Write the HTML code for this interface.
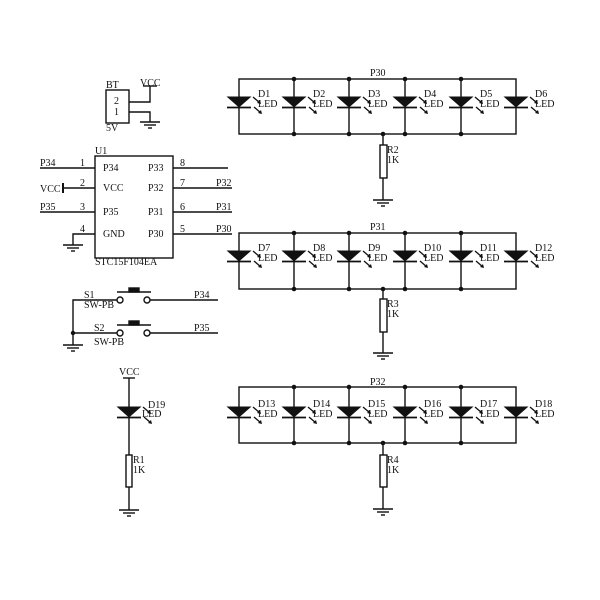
<!DOCTYPE html>
<html><head><style>
html,body{margin:0;padding:0;background:#fff;}
svg{display:block;}
text{font-family:"Liberation Serif",serif;font-size:10px;fill:#111;}
</style></head><body>
<svg width="600" height="600" viewBox="0 0 600 600" xmlns="http://www.w3.org/2000/svg">
<defs>
<g id="dio">
<polygon points="-12.5,-0.5 12.5,-0.5 0,10.5" fill="#111"/>
<line x1="-12" y1="10.5" x2="12" y2="10.5" stroke="#111" stroke-width="1.8"/>
<line x1="14" y1="0" x2="21" y2="6" stroke="#111" stroke-width="1.3"/>
<polygon points="22,7 18,6 21,3" fill="#111"/>
<line x1="15" y1="10" x2="22" y2="16" stroke="#111" stroke-width="1.3"/>
<polygon points="23,17 19,16 22,13" fill="#111"/>
</g>
<g id="gnd" stroke="#111" stroke-width="1.4">
<line x1="-10" y1="0" x2="10" y2="0"/>
<line x1="-6" y1="3" x2="6" y2="3"/>
<line x1="-2" y1="6" x2="2" y2="6"/>
</g>
</defs>
<g stroke="#111" stroke-width="1.4" fill="none">
<rect x="106" y="90" width="23" height="33"/>
<polyline points="129,102 150,102 150,86"/>
<line x1="143" y1="86" x2="157" y2="86"/>
<polyline points="129,112 150,112 150,122"/>
<rect x="95" y="156" width="78" height="102"/>
<line x1="40" y1="168" x2="95" y2="168"/>
<line x1="63" y1="188" x2="95" y2="188"/>
<line x1="63" y1="183" x2="63" y2="193" stroke-width="2"/>
<line x1="40" y1="212" x2="95" y2="212"/>
<polyline points="95,234 73,234 73,245"/>
<line x1="173" y1="168" x2="228" y2="168"/>
<line x1="173" y1="188" x2="232" y2="188"/>
<line x1="173" y1="212" x2="232" y2="212"/>
<line x1="173" y1="234" x2="232" y2="234"/>
<polyline points="117,300 73,300 73,345"/>
<line x1="73" y1="333" x2="117" y2="333"/>
<circle cx="120" cy="300" r="3"/><circle cx="147" cy="300" r="3"/>
<circle cx="120" cy="333" r="3"/><circle cx="147" cy="333" r="3"/>
<line x1="150" y1="300" x2="218" y2="300"/>
<line x1="150" y1="333" x2="218" y2="333"/>
<line x1="117" y1="292" x2="151" y2="292" stroke-width="1.6"/>
<line x1="117" y1="325" x2="151" y2="325" stroke-width="1.6"/>
<rect x="129" y="288" width="10" height="4" fill="#111"/>
<rect x="129" y="321" width="10" height="4" fill="#111"/>
<line x1="123" y1="378" x2="135" y2="378"/>
<line x1="129" y1="378" x2="129" y2="455"/>
<rect x="126" y="455" width="6" height="32"/>
<line x1="129" y1="487" x2="129" y2="510"/>
<rect x="239" y="79" width="277" height="55"/>
<rect x="239" y="233" width="277" height="56"/>
<rect x="239" y="387" width="277" height="56"/>
<line x1="294" y1="79" x2="294" y2="134"/><line x1="349" y1="79" x2="349" y2="134"/><line x1="405" y1="79" x2="405" y2="134"/><line x1="461" y1="79" x2="461" y2="134"/>
<line x1="294" y1="233" x2="294" y2="289"/><line x1="349" y1="233" x2="349" y2="289"/><line x1="405" y1="233" x2="405" y2="289"/><line x1="461" y1="233" x2="461" y2="289"/>
<line x1="294" y1="387" x2="294" y2="443"/><line x1="349" y1="387" x2="349" y2="443"/><line x1="405" y1="387" x2="405" y2="443"/><line x1="461" y1="387" x2="461" y2="443"/>
<line x1="383" y1="134" x2="383" y2="145"/><rect x="380" y="145" width="7" height="33"/><line x1="383" y1="178" x2="383" y2="200"/>
<line x1="383" y1="289" x2="383" y2="299"/><rect x="380" y="299" width="7" height="33"/><line x1="383" y1="332" x2="383" y2="353"/>
<line x1="383" y1="443" x2="383" y2="455"/><rect x="380" y="455" width="7" height="32"/><line x1="383" y1="487" x2="383" y2="509"/>
</g>
<g fill="#111">
<circle cx="73" cy="333" r="2.2"/>
<circle cx="294" cy="79" r="2.3"/><circle cx="349" cy="79" r="2.3"/><circle cx="405" cy="79" r="2.3"/><circle cx="461" cy="79" r="2.3"/>
<circle cx="294" cy="134" r="2.3"/><circle cx="349" cy="134" r="2.3"/><circle cx="383" cy="134" r="2.3"/><circle cx="405" cy="134" r="2.3"/><circle cx="461" cy="134" r="2.3"/>
<circle cx="294" cy="233" r="2.3"/><circle cx="349" cy="233" r="2.3"/><circle cx="405" cy="233" r="2.3"/><circle cx="461" cy="233" r="2.3"/>
<circle cx="294" cy="289" r="2.3"/><circle cx="349" cy="289" r="2.3"/><circle cx="383" cy="289" r="2.3"/><circle cx="405" cy="289" r="2.3"/><circle cx="461" cy="289" r="2.3"/>
<circle cx="294" cy="387" r="2.3"/><circle cx="349" cy="387" r="2.3"/><circle cx="405" cy="387" r="2.3"/><circle cx="461" cy="387" r="2.3"/>
<circle cx="294" cy="443" r="2.3"/><circle cx="349" cy="443" r="2.3"/><circle cx="383" cy="443" r="2.3"/><circle cx="405" cy="443" r="2.3"/><circle cx="461" cy="443" r="2.3"/>
</g>
<use href="#gnd" x="150" y="122"/><use href="#gnd" x="73" y="245"/><use href="#gnd" x="73" y="345"/><use href="#gnd" x="129" y="510"/>
<use href="#gnd" x="383" y="200"/><use href="#gnd" x="383" y="353"/><use href="#gnd" x="383" y="509"/>
<use href="#dio" x="129" y="407"/>
<use href="#dio" x="239" y="97"/><use href="#dio" x="294" y="97"/><use href="#dio" x="349" y="97"/><use href="#dio" x="405" y="97"/><use href="#dio" x="461" y="97"/><use href="#dio" x="516" y="97"/>
<use href="#dio" x="239" y="251"/><use href="#dio" x="294" y="251"/><use href="#dio" x="349" y="251"/><use href="#dio" x="405" y="251"/><use href="#dio" x="461" y="251"/><use href="#dio" x="516" y="251"/>
<use href="#dio" x="239" y="407"/><use href="#dio" x="294" y="407"/><use href="#dio" x="349" y="407"/><use href="#dio" x="405" y="407"/><use href="#dio" x="461" y="407"/><use href="#dio" x="516" y="407"/>
<text x="106" y="88">BT</text><text x="140" y="86">VCC</text>
<text x="114" y="104">2</text><text x="114" y="115">1</text><text x="106" y="131">5V</text>
<text x="95" y="154">U1</text>
<text x="40" y="166">P34</text><text x="80" y="166">1</text><text x="103" y="171">P34</text><text x="148" y="171">P33</text><text x="180" y="166">8</text>
<text x="40" y="192">VCC</text><text x="80" y="186">2</text><text x="103" y="191">VCC</text><text x="148" y="191">P32</text><text x="180" y="186">7</text><text x="216" y="186">P32</text>
<text x="40" y="210">P35</text><text x="80" y="210">3</text><text x="103" y="215">P35</text><text x="148" y="215">P31</text><text x="180" y="210">6</text><text x="216" y="210">P31</text>
<text x="80" y="232">4</text><text x="103" y="237">GND</text><text x="148" y="237">P30</text><text x="180" y="232">5</text><text x="216" y="232">P30</text>
<text x="95" y="265">STC15F104EA</text>
<text x="84" y="298">S1</text><text x="84" y="308">SW-PB</text><text x="194" y="298">P34</text>
<text x="94" y="331">S2</text><text x="94" y="345">SW-PB</text><text x="194" y="331">P35</text>
<text x="119" y="375">VCC</text><text x="148" y="408">D19</text><text x="142" y="417">LED</text>
<text x="133" y="463">R1</text><text x="133" y="473">1K</text>
<text x="370" y="76">P30</text><text x="370" y="230">P31</text><text x="370" y="385">P32</text>
<text x="387" y="153">R2</text><text x="387" y="163">1K</text>
<text x="387" y="307">R3</text><text x="387" y="317">1K</text>
<text x="387" y="463">R4</text><text x="387" y="473">1K</text>
<text x="258" y="97">D1</text><text x="313" y="97">D2</text><text x="368" y="97">D3</text><text x="424" y="97">D4</text><text x="480" y="97">D5</text><text x="535" y="97">D6</text>
<text x="258" y="107">LED</text><text x="313" y="107">LED</text><text x="368" y="107">LED</text><text x="424" y="107">LED</text><text x="480" y="107">LED</text><text x="535" y="107">LED</text>
<text x="258" y="251">D7</text><text x="313" y="251">D8</text><text x="368" y="251">D9</text><text x="424" y="251">D10</text><text x="480" y="251">D11</text><text x="535" y="251">D12</text>
<text x="258" y="261">LED</text><text x="313" y="261">LED</text><text x="368" y="261">LED</text><text x="424" y="261">LED</text><text x="480" y="261">LED</text><text x="535" y="261">LED</text>
<text x="258" y="407">D13</text><text x="313" y="407">D14</text><text x="368" y="407">D15</text><text x="424" y="407">D16</text><text x="480" y="407">D17</text><text x="535" y="407">D18</text>
<text x="258" y="417">LED</text><text x="313" y="417">LED</text><text x="368" y="417">LED</text><text x="424" y="417">LED</text><text x="480" y="417">LED</text><text x="535" y="417">LED</text>
</svg>
</body></html>
